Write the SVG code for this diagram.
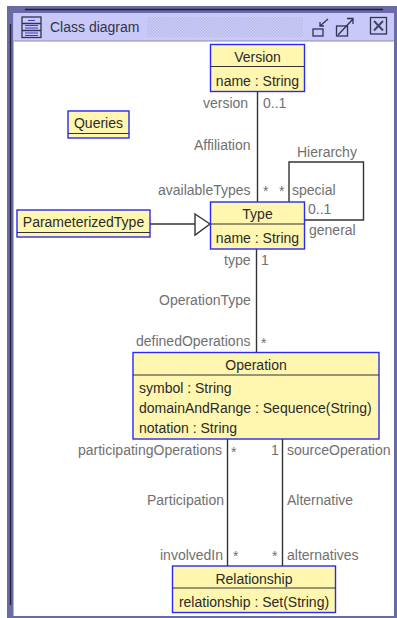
<svg xmlns="http://www.w3.org/2000/svg" width="397" height="618" viewBox="0 0 397 618">
<defs>
<pattern id="dots" width="3" height="3" patternUnits="userSpaceOnUse"><rect width="3" height="3" fill="#cfcff8"/><rect width="1.5" height="1.5" fill="#b8b8e8"/><rect x="1.5" y="1.5" width="1.5" height="1.5" fill="#b8b8e8"/></pattern>
</defs>
<style>
text{font-family:"Liberation Sans",Arial,sans-serif;font-size:14px}
.n{fill:#2a2a2a;text-anchor:middle}
.a{fill:#2a2a2a}
.l{fill:#707070}
.box{fill:#fff7b0;stroke:#2a2af0;stroke-width:1.4}
.sep{stroke:#333;stroke-width:1.2}
.c{fill:none;stroke:#333;stroke-width:1.4}
.ic{fill:none;stroke:#333355;stroke-width:1.3}
</style>
<rect width="397" height="618" fill="#fff"/>
<g id="window">
<rect x="7" y="6" width="390" height="612" fill="#6a6aa6"/>
<rect x="13.500" y="13" width="380.500" height="603" fill="#fff"/>
<rect x="13.500" y="13" width="380.500" height="28" fill="#c9c9f9"/>
<line x1="13.500" y1="41" x2="394" y2="41" stroke="#8a8ab8" stroke-width="1"/>
<line x1="25" y1="9.500" x2="383" y2="9.500" stroke="#222" stroke-width="1.300"/>
<line x1="10.500" y1="24" x2="10.500" y2="605" stroke="#222233" stroke-width="1.300"/>
<rect x="147" y="17" width="156" height="20" fill="url(#dots)"/>
<text x="50" y="32" fill="#333344">Class diagram</text>
<g id="title-icons">
<rect x="22" y="17" width="19" height="20.500" class="ic"/>
<path d="M22 23.500H41M22 30.500H41" class="ic"/>
<path d="M28 20.500H35M25 25.500H38M25 28H38M25 33H38M25 35.500H38" stroke="#3a3ac8" stroke-width="1.200" fill="none"/>
<rect x="313" y="29" width="10" height="7" class="ic"/>
<path d="M320 26L328 19M320 22V26H324" class="ic"/>
<rect x="336.500" y="26" width="11" height="10" class="ic"/>
<path d="M338 35L353 19M347 18.500H353V24" class="ic"/>
<rect x="370.500" y="17.500" width="16" height="16.500" class="ic" stroke-width="1.600"/>
<path d="M374 21L383 30.500M383 21L374 30.500" stroke="#444466" stroke-width="2" fill="none"/>
</g>
</g>
<g id="connectors">
<path class="c" d="M257.500 92V202"/>
<path class="c" d="M289 202V162H363.500V220H304"/>
<path class="c" d="M150 224H195"/>
<path class="c" d="M210 224L195 214V235Z" fill="#fff"/>
<path class="c" d="M256.500 248V352"/>
<path class="c" d="M227.500 439V566"/>
<path class="c" d="M282.500 439V566"/>
</g>
<g id="labels">
<text class="l" x="203" y="108">version</text>
<text class="l" x="263" y="108">0..1</text>
<text class="l" x="194" y="150">Affiliation</text>
<text class="l" x="297" y="157">Hierarchy</text>
<text class="l" x="158" y="195">availableTypes</text>
<text class="l" x="263" y="196">*</text>
<text class="l" x="279" y="196">*</text>
<text class="l" x="292" y="195">special</text>
<text class="l" x="308" y="214">0..1</text>
<text class="l" x="309" y="235">general</text>
<text class="l" x="224" y="265">type</text>
<text class="l" x="261" y="265">1</text>
<text class="l" x="159" y="305">OperationType</text>
<text class="l" x="136" y="346">definedOperations</text>
<text class="l" x="261" y="348">*</text>
<text class="l" x="78" y="455">participatingOperations</text>
<text class="l" x="231" y="457">*</text>
<text class="l" x="271" y="455">1</text>
<text class="l" x="287" y="455">sourceOperation</text>
<text class="l" x="147" y="505">Participation</text>
<text class="l" x="287" y="505">Alternative</text>
<text class="l" x="160" y="560">involvedIn</text>
<text class="l" x="233" y="561">*</text>
<text class="l" x="272" y="561">*</text>
<text class="l" x="287" y="560">alternatives</text>
</g>
<g id="Version">
<rect class="box" x="210.500" y="44.500" width="94" height="47"/>
<line class="sep" x1="210.500" y1="66.500" x2="304.500" y2="66.500"/>
<text class="n" x="257.500" y="62">Version</text>
<text class="n" x="257.500" y="86">name : String</text>
</g>
<g id="Queries">
<rect class="box" x="68" y="111" width="61" height="27"/>
<line class="sep" x1="68" y1="133.500" x2="129" y2="133.500"/>
<text class="n" x="98.500" y="128">Queries</text>
</g>
<g id="ParameterizedType">
<rect class="box" x="17" y="210" width="133" height="27"/>
<line class="sep" x1="17" y1="232.500" x2="150" y2="232.500"/>
<text class="n" x="83.500" y="227">ParameterizedType</text>
</g>
<g id="Type">
<rect class="box" x="210.500" y="202" width="94" height="47"/>
<line class="sep" x1="210.500" y1="224" x2="304.500" y2="224"/>
<text class="n" x="257.500" y="219">Type</text>
<text class="n" x="257.500" y="243">name : String</text>
</g>
<g id="Operation">
<rect class="box" x="133" y="352.500" width="246" height="86.500"/>
<line class="sep" x1="133" y1="375" x2="379" y2="375"/>
<text class="n" x="256" y="370">Operation</text>
<text class="a" x="139" y="393">symbol : String</text>
<text class="a" x="139" y="413">domainAndRange : Sequence(String)</text>
<text class="a" x="139" y="433">notation : String</text>
</g>
<g id="Relationship">
<rect class="box" x="172.500" y="566" width="163" height="46.500"/>
<line class="sep" x1="172.500" y1="588" x2="335.500" y2="588"/>
<text class="n" x="254" y="584">Relationship</text>
<text class="n" x="254" y="607">relationship : Set(String)</text>
</g>
</svg>
